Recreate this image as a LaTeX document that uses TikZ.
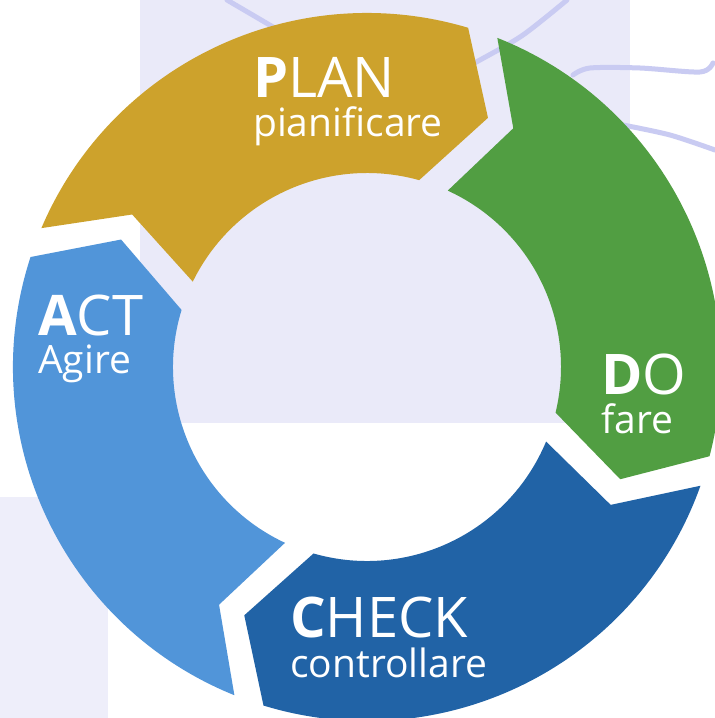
\documentclass[tikz,border=0pt]{standalone}
\usepackage{fontspec}
\setmainfont{Open Sans}
\definecolor{plancol}{RGB}{205,162,44}
\definecolor{docol}{RGB}{81,158,66}
\definecolor{checkcol}{RGB}{33,99,166}
\definecolor{actcol}{RGB}{81,149,217}
\definecolor{lavender}{RGB}{234,234,249}
\definecolor{palelav}{RGB}{238,238,250}
\definecolor{wirecol}{RGB}{201,203,242}
\begin{document}
\begin{tikzpicture}[x=1pt,y=1pt,
    big/.style={text=white, inner sep=0pt, anchor=base west, text depth=0pt, font=\fontsize{56}{56}\selectfont},
    small/.style={text=white, inner sep=0pt, anchor=base west, text height=20pt, font=\fontsize{39}{39}\selectfont},
    wire/.style={draw=wirecol, line width=5pt, line cap=round}]
          \useasboundingbox (-367,-351) rectangle (348,367);
          \fill[white] (-367,-351) rectangle (348,367);
          % background
          \fill[lavender] (-227,367) rectangle (263,-56);
          \fill[palelav] (-367,-130) rectangle (-259,-351);
          \draw[wire] plot[smooth] coordinates {(200,367) (156,332) (113,307) (80,290)};
          \draw[wire] plot[smooth] coordinates {(-140,367) (-94,340) (-70,325)};
          \draw[wire] plot[smooth] coordinates {(206,292) (223,299) (273,299) (333,295) (346,304)};
          \draw[wire] plot[smooth] coordinates {(256,242) (303,232) (348,217)};
          % ring, outer radius 354, inner radius 194
          \fill[plancol] (156.9:354) arc[start angle=156.9, end angle=73.4, radius=354]
            -- (64.1:277) -- (74.4:194) arc[start angle=74.4, end angle=153.9, radius=194]
            -- (147.0:280) -- cycle;
          \fill[docol] (68.4:354) arc[start angle=68.4, end angle=-14.6, radius=354]
            -- (-23.9:277) -- (-13.6:194) arc[start angle=-13.6, end angle=65.4, radius=194]
            -- (58.5:280) -- cycle;
          \fill[checkcol] (-19.6:354) arc[start angle=-19.6, end angle=-107, radius=354]
            -- (-116.3:277) -- (-106:194) arc[start angle=-106, end angle=-22.6, radius=194]
            -- (-29.5:280) -- cycle;
          \fill[actcol] (-112:354) arc[start angle=-112, end angle=-198.1, radius=354]
            -- (-207.4:277) -- (-197.1:194) arc[start angle=-197.1, end angle=-115, radius=194]
            -- (-121.9:280) -- cycle;
          % labels
          \node[big] (plan) at (-114,269) {\textbf{P}LAN};
          \node[small] (plansub) at (-114,230) {pianificare};
          \node[big] (do) at (234,-27) {\textbf{D}O};
          \node[small] (dosub) at (234,-66) {fare};
          \node[big] (check) at (-77,-270) {\textbf{C}HECK};
          \node[small] (checksub) at (-77,-310) {controllare};
          \node[big] (act) at (-329,32) {\textbf{A}CT};
          \node[small] (actsub) at (-329,-6) {Agire};
        \end{tikzpicture}
\end{document}
